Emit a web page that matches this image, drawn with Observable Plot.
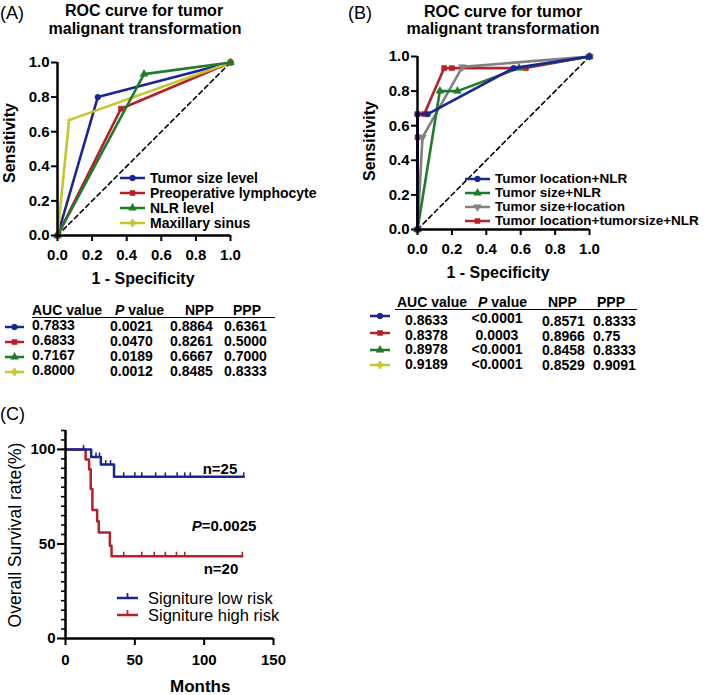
<!DOCTYPE html>
<html><head><meta charset="utf-8">
<script src="https://cdn.jsdelivr.net/npm/d3@7"></script>
<script src="https://cdn.jsdelivr.net/npm/@observablehq/plot@0.6"></script>
<style>
body{margin:0;background:#fff;}
#root{position:relative;width:709px;height:695px;font-family:Arial,"Liberation Sans",sans-serif;color:#000;overflow:hidden;background:#fff;}
.t{position:absolute;white-space:nowrap;line-height:1;}
.plot{position:absolute;overflow:visible;}
</style></head><body><div id="root"></div>
<script>
// ---------------- DATA ----------------
// Panel A: ROC curves (1 - specificity, sensitivity)
const rocASeries = ["Tumor size level", "Preoperative lymphocyte", "NLR level", "Maxillary sinus"];
const rocAFpr = [[0, 0.233, 1], [0, 0.367, 1], [0, 0.5, 1], [0, 0.067, 1]];
const rocATpr = [[0, 0.8, 1], [0, 0.733, 1], [0, 0.933, 1], [0, 0.667, 1]];
const tableAAuc = ["0.7833", "0.6833", "0.7167", "0.8000"];
const tableAP = ["0.0021", "0.0470", "0.0189", "0.0012"];
const tableANpp = ["0.8864", "0.8261", "0.6667", "0.8485"];
const tableAPpp = ["0.6361", "0.5000", "0.7000", "0.8333"];

// Panel B: combined ROC curves
const rocBSeries = ["Tumor location+NLR", "Tumor size+NLR", "Tumor size+location", "Tumor location+tumorsize+NLR"];
const rocBFpr = [[0, 0, 0.059, 0.559, 1], [0, 0.13, 0.232, 0.59, 1], [0, 0.029, 0.261, 1], [0, 0, 0, 0.039, 0.155, 0.2, 0.63, 1]];
const rocBTpr = [[0, 0.667, 0.667, 0.933, 1], [0, 0.8, 0.8, 0.933, 1], [0, 0.533, 0.94, 1], [0, 0.533, 0.667, 0.667, 0.933, 0.933, 0.933, 1]];
const tableBAuc = ["0.8633", "0.8378", "0.8978", "0.9189"];
const tableBP = ["<0.0001", "0.0003", "<0.0001", "<0.0001"];
const tableBNpp = ["0.8571", "0.8966", "0.8458", "0.8529"];
const tableBPpp = ["0.8333", "0.75", "0.8333", "0.9091"];

const rocTicks = [0, 0.2, 0.4, 0.6, 0.8, 1.0];
const diagonal = [0, 1];

// Panel C: Kaplan-Meier curves
const kmSeries = ["Signiture low risk", "Signiture high risk"];
const kmLowT = [0, 18.5, 25.5, 35, 128.5];
const kmLowS = [100, 96, 92, 85.5, 85.5];
const kmLowCensor = [13, 22, 24.5, 29, 32.5, 42, 50, 55, 65, 72, 80.5, 86, 90, 128.5];
const kmHighT = [0, 14.5, 17, 18.2, 19.4, 22.8, 24, 32, 33.2, 127.5];
const kmHighS = [100, 94.7, 89.5, 79, 68, 62, 56, 49, 43.5, 43.5];
const kmHighCensor = [42, 55, 64, 72, 80, 86, 127.5];
const kmN = ["n=25", "n=20"];
const kmPValue = "0.0025";
const kmXTicks = [0, 50, 100, 150];
const kmYTicks = [0, 50, 100];
const kmYMinor = [0, 5, 10, 15, 20, 25, 30, 35, 40, 45, 50, 55, 60, 65, 70, 75, 80, 85, 90, 95, 100, 105, 110];

// ---------------- STYLE ----------------
const C = {blue: "#1b2590", red: "#b3222a", green: "#1e7b2a", yellow: "#c6c62c", gray: "#808080"};
const colorsA = [C.blue, C.red, C.green, C.yellow];
const symbolsA = ["circle", "square", "triangle", "plus"];
const colorsB = [C.blue, C.green, C.gray, C.red];
const symbolsB = ["circle", "triangle", "triangleDown", "square"];
const tableBColors = [C.blue, C.red, C.green, C.yellow];
const tableBSymbols = ["circle", "square", "triangle", "plus"];
const FONT = 'Arial, "Liberation Sans", sans-serif';

const root = document.getElementById("root");
function text(html, x, y, o = {}) {
  const d = document.createElement("div");
  d.className = "t";
  d.innerHTML = html;
  d.style.left = x + "px";
  d.style.top = y + "px";
  d.style.fontSize = (o.size || 14) + "px";
  d.style.fontWeight = o.weight || "bold";
  const ax = o.anchor === "middle" ? "-50%" : o.anchor === "end" ? "-100%" : "0";
  d.style.transform = `translate(${ax},-50%)`;
  if (o.rotate) d.style.transform = `translate(-50%,-50%) rotate(${o.rotate}deg)`;
  root.appendChild(d);
  return d;
}
function d3sym(name) {
  return {circle: d3.symbolCircle, square: d3.symbolSquare, triangle: d3.symbolTriangle, plus: d3.symbolCross, triangleDown: d3.symbolTriangle}[name];
}
function swatch(x1, x2, y, color, sym, sw = 2.5, censor = false) {
  const w = x2 - x1;
  const s = document.createElementNS("http://www.w3.org/2000/svg", "svg");
  s.setAttribute("width", w + 4); s.setAttribute("height", 14);
  s.style.position = "absolute"; s.style.left = (x1 - 2) + "px"; s.style.top = (y - 7) + "px"; s.style.overflow = "visible";
  let inner = `<line x1="2" x2="${w + 2}" y1="7" y2="7" stroke="${color}" stroke-width="${sw}"/>`;
  if (sym) {
    const p = d3.symbol(d3sym(sym), 26)();
    inner += `<path d="${p}" fill="${color}" stroke="${color}" stroke-width="0.5" transform="translate(${w / 2 + 2},7)${sym === "triangleDown" ? " rotate(180)" : ""}"/>`;
  }
  if (censor) inner += `<line x1="${w / 2 + 2}" x2="${w / 2 + 2}" y1="7" y2="2" stroke="${color}" stroke-width="1.8"/>`;
  s.innerHTML = inner;
  root.appendChild(s);
}
function place(svg, left, top) {
  svg.classList.add("plot");
  svg.style.left = left + "px";
  svg.style.top = top + "px";
  root.appendChild(svg);
}
function hline(x, y, w) {
  const d = document.createElement("div");
  d.style.cssText = `position:absolute;left:${x}px;top:${y}px;width:${w}px;height:1.5px;background:#000`;
  root.appendChild(d);
}

// ---------------- ROC plot builder ----------------
function rocPlot(series, fprs, tprs, colors, symbols, order, geom) {
  const marks = [
    Plot.line(diagonal, {x: d => d, y: d => d, stroke: "#000", strokeWidth: 1.6, strokeDasharray: "4.5,3.5"})
  ];
  for (const i of order) {
    const pts = fprs[i].map((x, j) => ({fpr: x, tpr: tprs[i][j], series: series[i]}));
    marks.push(Plot.line(pts, {x: "fpr", y: "tpr", stroke: colors[i], strokeWidth: 2.6}));
    const sym = symbols[i] === "triangleDown" ? "triangle" : symbols[i];
    marks.push(Plot.dot(pts, {x: "fpr", y: "tpr", fill: colors[i], stroke: colors[i], strokeWidth: 0.5, symbol: sym, r: 2.9, rotate: symbols[i] === "triangleDown" ? 180 : 0}));
  }
  marks.push(
    Plot.axisX({ticks: rocTicks, tickFormat: ".1f", tickSize: 6, tickPadding: 8, strokeWidth: 2, label: null}),
    Plot.axisY({ticks: rocTicks, tickFormat: ".1f", tickSize: 6, tickPadding: 2, strokeWidth: 2, label: null}),
    Plot.ruleX([0], {strokeWidth: 2.5}),
    Plot.ruleY([0], {strokeWidth: 2.5})
  );
  return Plot.plot({
    width: geom.width, height: geom.height,
    marginLeft: geom.ml, marginRight: geom.mr, marginTop: geom.mt, marginBottom: geom.mb,
    x: {domain: [0, 1]}, y: {domain: [0, 1]},
    style: {fontFamily: FONT, fontSize: "15px", fontWeight: "bold", color: "#000", background: "transparent", overflow: "visible"},
    marks
  });
}

// ---------------- Panel A ----------------
place(rocPlot(rocASeries, rocAFpr, rocATpr, colorsA, symbolsA, [0, 1, 3, 2],
  {width: 320, height: 290, ml: 57, mr: 90, mt: 62, mb: 55}), 0, 0);
text("(A)", 0, 13, {size: 18, weight: "normal"});
text("ROC curve for tumor", 144, 11, {size: 16, anchor: "middle"});
text("malignant transformation", 145, 29, {size: 16, anchor: "middle"});
text("Sensitivity", 10, 143, {size: 16, rotate: -90});
text("1 - Specificity", 143, 279, {size: 16, anchor: "middle"});
const legAY = [178, 193, 208, 223];
rocASeries.forEach((s, i) => {
  swatch(120, 145, legAY[i], colorsA[i], symbolsA[i]);
  text(s, 150, legAY[i], {size: 14});
});
// Table A
text("AUC value", 32, 310, {size: 14});
text("<i>P</i> value", 115, 310, {size: 14});
text("NPP", 185, 310, {size: 14});
text("PPP", 233, 310, {size: 14});
hline(32, 316.5, 243);
const rowAY = [325, 340, 355, 370];
tableAAuc.forEach((v, i) => {
  swatch(5, 24, rowAY[i] + 2, colorsA[i], symbolsA[i]);
  text(v, 32, rowAY[i], {size: 14});
  text(tableAP[i], 110, rowAY[i] + 1, {size: 14});
  text(tableANpp[i], 170, rowAY[i] + 1, {size: 14});
  text(tableAPpp[i], 224, rowAY[i] + 1, {size: 14});
});

// ---------------- Panel B ----------------
place(rocPlot(rocBSeries, rocBFpr, rocBTpr, colorsB, symbolsB, [3, 2, 1, 0],
  {width: 359, height: 290, ml: 67, mr: 120, mt: 56, mb: 61}), 350, 0);
text("(B)", 348, 13, {size: 18, weight: "normal"});
text("ROC curve for tumor", 503, 12, {size: 16, anchor: "middle"});
text("malignant transformation", 503, 29, {size: 16, anchor: "middle"});
text("Sensitivity", 370, 141, {size: 16, rotate: -90});
text("1 - Specificity", 498, 273, {size: 16, anchor: "middle"});
const legBY = [179, 193, 207, 221];
rocBSeries.forEach((s, i) => {
  swatch(465, 490, legBY[i], colorsB[i], symbolsB[i]);
  text(s, 495, legBY[i], {size: 13.5});
});
// Table B
text("AUC value", 397, 302, {size: 14});
text("<i>P</i> value", 478, 302, {size: 14});
text("NPP", 548, 302, {size: 14});
text("PPP", 597, 302, {size: 14});
hline(395, 308.5, 242);
const rowBY = [320, 334.5, 349, 364];
const rowBMarkY = [316, 333, 350, 365];
tableBAuc.forEach((v, i) => {
  swatch(370, 390, rowBMarkY[i], tableBColors[i], tableBSymbols[i]);
  text(v, 405, rowBY[i], {size: 14});
  text(tableBP[i], 497, rowBY[i] - (i === 0 ? 2 : 0), {size: 14, anchor: "middle"});
  text(tableBNpp[i], 542, rowBY[i] + 1, {size: 14});
  text(tableBPpp[i], 593, rowBY[i] + 1, {size: 14});
});

// ---------------- Panel C ----------------
function survAt(T, S, t) { let s = S[0]; for (let j = 0; j < T.length; j++) if (T[j] <= t) s = S[j]; return s; }
const lowPts = kmLowT.map((t, j) => ({t, s: kmLowS[j]}));
const highPts = kmHighT.map((t, j) => ({t, s: kmHighS[j]}));
const lowCens = kmLowCensor.map(t => ({t, s: survAt(kmLowT, kmLowS, t)}));
const highCens = kmHighCensor.map(t => ({t, s: survAt(kmHighT, kmHighS, t)}));
const censorSymbol = {draw(ctx) { ctx.moveTo(0, 0.5); ctx.lineTo(0, -4.5); }};
const km = Plot.plot({
  width: 300, height: 285, marginLeft: 65, marginRight: 27, marginTop: 20, marginBottom: 57,
  x: {domain: [0, 150]}, y: {domain: [0, 110]},
  style: {fontFamily: FONT, fontSize: "15px", fontWeight: "bold", color: "#000", background: "transparent", overflow: "visible"},
  marks: [
    Plot.line(highPts, {x: "t", y: "s", curve: "step-after", stroke: C.red, strokeWidth: 2.5}),
    Plot.dot(highCens, {x: "t", y: "s", symbol: censorSymbol, stroke: C.red, fill: "none", strokeWidth: 1.6}),
    Plot.line(lowPts, {x: "t", y: "s", curve: "step-after", stroke: C.blue, strokeWidth: 2.5}),
    Plot.dot(lowCens, {x: "t", y: "s", symbol: censorSymbol, stroke: C.blue, fill: "none", strokeWidth: 1.6}),
    Plot.axisX({ticks: kmXTicks, tickSize: 7, tickPadding: 9, strokeWidth: 2, label: null}),
    Plot.axisY({ticks: kmYTicks, tickSize: 8, tickPadding: 2, strokeWidth: 2, label: null}),
    Plot.axisY({ticks: kmYMinor, tickSize: 4, strokeWidth: 1.6, text: null, label: null}),
    Plot.ruleX([0], {strokeWidth: 2.5}),
    Plot.ruleY([0], {strokeWidth: 2.5})
  ]
});
place(km, 0, 410);
text("(C)", 0, 414, {size: 18, weight: "normal"});
text("Overall Survival rate(%)", 16, 535, {size: 17.5, weight: "normal", rotate: -90});
text("Months", 170, 686, {size: 17});
text(kmN[0], 220, 468, {size: 15, anchor: "middle"});
text(kmN[1], 221, 568, {size: 15, anchor: "middle"});
text(`<i>P</i>=${kmPValue}`, 224, 525, {size: 15, anchor: "middle"});
swatch(117, 138, 598, C.blue, null, 2.5, true);
swatch(117, 138, 615, C.red, null, 2.5, true);
text(kmSeries[0], 148, 598, {size: 16.5, weight: "normal"});
text(kmSeries[1], 148, 615, {size: 16.5, weight: "normal"});
</script></body></html>
